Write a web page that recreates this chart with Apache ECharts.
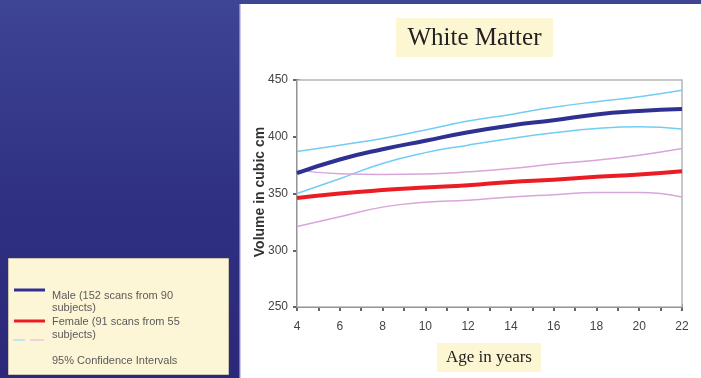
<!DOCTYPE html>
<html>
<head>
<meta charset="utf-8">
<script src="https://cdn.jsdelivr.net/npm/echarts@6/dist/echarts.min.js"></script>
<style>
html,body{margin:0;padding:0;width:701px;height:378px;overflow:hidden;}
#c{width:701px;height:378px;}
</style>
</head>
<body>
<div id="c"></div>
<script>
// ---- data ----
var ages = [4, 6, 8, 10, 12, 14, 16, 18, 20, 22];
var male = [368, 380, 389, 396.5, 404, 410, 414.5, 419.7, 422.6, 424.4];
var maleUpper = [387, 392.6, 398.5, 406, 413.8, 419.7, 426, 430.9, 435.3, 441];
var maleLower = [350, 363, 376.5, 386, 392.6, 398.5, 403.5, 407.3, 408.8, 406.8];
var female = [346, 350, 353, 355.3, 357.3, 360.2, 362.2, 364.7, 366.8, 369.7];
var femaleUpper = [370.6, 367.4, 366.8, 367.2, 369.1, 372, 376, 379.4, 383.8, 389.7];
var femaleLower = [321, 329.5, 338, 342.3, 344, 347, 349, 350.9, 350.9, 347];
var yTicks = [250, 300, 350, 400, 450];
var xTickLabels = [4, 6, 8, 10, 12, 14, 16, 18, 20, 22];
var titleText = 'White Matter';
var xName = 'Age in years';
var yName = 'Volume in cubic cm';
var legendMale = ['Male (152 scans from 90', 'subjects)'];
var legendFemale = ['Female (91 scans from 55', 'subjects)'];
var legendCI = '95% Confidence Intervals';

function pairs(v) { return ages.map(function (a, i) { return [a, v[i]]; }); }

var chart = echarts.init(document.getElementById('c'), null, {renderer: 'canvas'});
var narrow = "'Liberation Sans Narrow', 'Arial Narrow', 'Liberation Sans', sans-serif";
var serif = "'Liberation Serif', 'Times New Roman', serif";
var sans = "'Liberation Sans', Arial, sans-serif";

var C_MALE = '#2e3192', C_FEMALE = '#ec1c24', C_CIB = '#72cdf4', C_CIP = '#d9a5da';

function line(name, data, color, width, z) {
  return {name: name, type: 'line', data: pairs(data), smooth: true, symbol: 'none',
    lineStyle: {color: color, width: width}, itemStyle: {color: color}, z: z, silent: true};
}

var option = {
  animation: false,
  backgroundColor: {type: 'linear', x: 0, y: 0, x2: 0, y2: 1, colorStops: [
    {offset: 0, color: '#3e4594'}, {offset: 0.5, color: '#303181'}, {offset: 1, color: '#2c2879'}]},
  grid: {left: 297, top: 80, right: 19, bottom: 71, show: true, borderColor: '#b5b5b5', borderWidth: 1.5, backgroundColor: '#fff', z: 1},
  xAxis: [{
    type: 'value', min: 4, max: 22, interval: 1, position: 'bottom',
    axisLine: {show: true, onZero: false, lineStyle: {color: '#333', width: 2}},
    axisTick: {show: true, length: 4, lineStyle: {color: '#333', width: 1.5}},
    axisLabel: {margin: 14, fontFamily: narrow, fontSize: 12, color: '#444',
      formatter: function (v) { return xTickLabels.indexOf(v) >= 0 ? String(v) : ''; }},
    splitLine: {show: false}
  }, {
    type: 'value', min: 4, max: 22, interval: 1, position: 'bottom',
    axisLine: {show: false}, axisTick: {show: true, inside: true, length: 3, lineStyle: {color: '#333', width: 1.5}},
    axisLabel: {show: false}, splitLine: {show: false}
  }],
  yAxis: [{
    type: 'value', min: yTicks[0], max: yTicks[yTicks.length - 1], interval: 50, position: 'left',
    axisLine: {show: true, onZero: false, lineStyle: {color: '#333', width: 2}},
    axisTick: {show: true, length: 4, lineStyle: {color: '#333', width: 1.5}},
    axisLabel: {margin: 9, fontFamily: narrow, fontSize: 12, color: '#444'},
    splitLine: {show: false}
  }, {
    type: 'value', min: yTicks[0], max: yTicks[yTicks.length - 1], interval: 50, position: 'left',
    axisLine: {show: false}, axisTick: {show: true, inside: true, length: 3, lineStyle: {color: '#333', width: 1.5}},
    axisLabel: {show: false}, splitLine: {show: false}
  }],
  series: [
    line('Male upper CI', maleUpper, C_CIB, 1.5, 3),
    line('Male lower CI', maleLower, C_CIB, 1.5, 3),
    line('Female upper CI', femaleUpper, C_CIP, 1.5, 3),
    line('Female lower CI', femaleLower, C_CIP, 1.5, 3),
    line('Female', female, C_FEMALE, 4, 4),
    line('Male', male, C_MALE, 4, 5)
  ],
  graphic: [
    {type: 'rect', z: -10, silent: true, shape: {x: 240, y: 4, width: 461, height: 374}, style: {fill: '#ffffff'}},
    {type: 'rect', z: -9, silent: true, shape: {x: 239.5, y: 4, width: 1.5, height: 374}, style: {fill: '#c9c9e6'}},
    // title box
    {type: 'rect', z: 10, silent: true, shape: {x: 396, y: 18, width: 157, height: 39}, style: {fill: '#fdf6d3'}},
    {type: 'text', z: 11, silent: true, x: 474.5, y: 38, style: {text: titleText, font: '25px ' + serif, fill: '#222', align: 'center', verticalAlign: 'middle'}},
    // x axis name box
    {type: 'rect', z: 10, silent: true, shape: {x: 437, y: 343, width: 104, height: 29}, style: {fill: '#fdf6d3'}},
    {type: 'text', z: 11, silent: true, x: 489, y: 358, style: {text: xName, font: '17px ' + serif, fill: '#222', align: 'center', verticalAlign: 'middle'}},
    // y axis name
    {type: 'text', z: 11, silent: true, x: 260, y: 192, rotation: Math.PI / 2, style: {text: yName, font: 'bold 14px ' + sans, fill: '#333', align: 'center', verticalAlign: 'middle'}},
    // legend box
    {type: 'rect', z: 10, silent: true, shape: {x: 8.5, y: 258.5, width: 220, height: 116}, style: {fill: '#fdf6d6', stroke: '#c9c5b0', lineWidth: 1}},
    {type: 'line', z: 11, silent: true, shape: {x1: 14, y1: 290, x2: 45, y2: 290}, style: {stroke: C_MALE, lineWidth: 3}},
    {type: 'text', z: 11, silent: true, x: 52, y: 296, style: {text: legendMale[0], font: '11px ' + sans, fill: '#5a5a5a', verticalAlign: 'middle'}},
    {type: 'text', z: 11, silent: true, x: 52, y: 308, style: {text: legendMale[1], font: '11px ' + sans, fill: '#5a5a5a', verticalAlign: 'middle'}},
    {type: 'line', z: 11, silent: true, shape: {x1: 14, y1: 321, x2: 45, y2: 321}, style: {stroke: C_FEMALE, lineWidth: 3}},
    {type: 'text', z: 11, silent: true, x: 52, y: 322, style: {text: legendFemale[0], font: '11px ' + sans, fill: '#5a5a5a', verticalAlign: 'middle'}},
    {type: 'text', z: 11, silent: true, x: 52, y: 335, style: {text: legendFemale[1], font: '11px ' + sans, fill: '#5a5a5a', verticalAlign: 'middle'}},
    {type: 'line', z: 11, silent: true, shape: {x1: 13, y1: 340, x2: 25, y2: 340}, style: {stroke: '#bfe9ef', lineWidth: 2}},
    {type: 'line', z: 11, silent: true, shape: {x1: 30, y1: 340, x2: 44, y2: 340}, style: {stroke: '#f3d2e0', lineWidth: 2}},
    {type: 'text', z: 11, silent: true, x: 52, y: 361, style: {text: legendCI, font: '11px ' + sans, fill: '#5a5a5a', verticalAlign: 'middle'}}
  ]
};
chart.setOption(option);
</script>
</body>
</html>
